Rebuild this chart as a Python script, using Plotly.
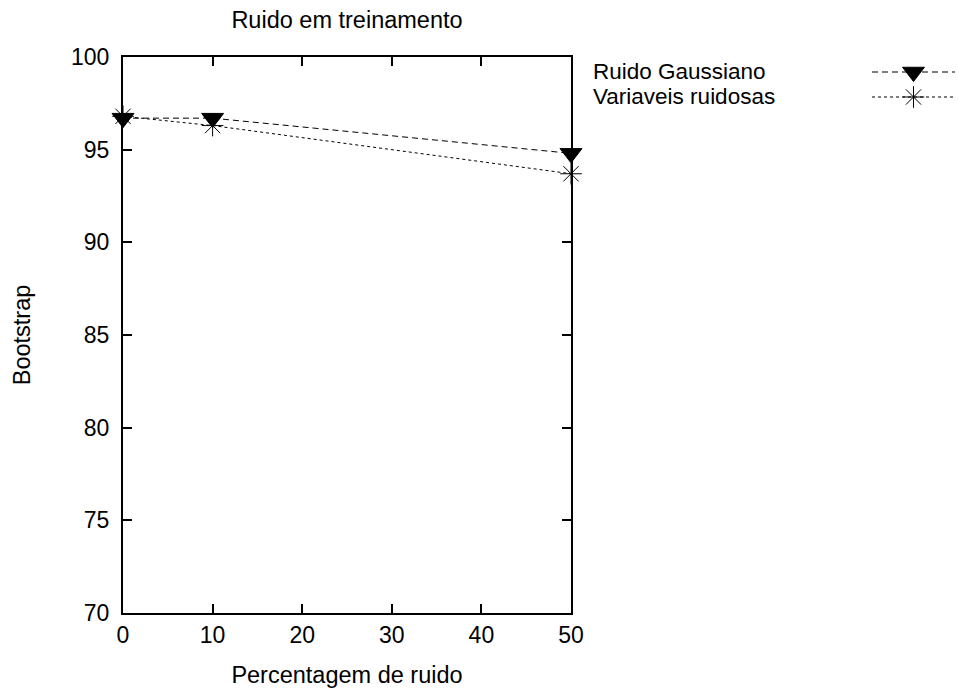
import plotly.graph_objects as go

W, H = 958, 691

# Data
noise_pct = [0, 10, 50]
gauss = [96.7, 96.7, 94.8]
variaveis = [96.8, 96.3, 93.7]
series_names = ["Ruido Gaussiano", "Variaveis ruidosas"]
x_ticks = [0, 10, 20, 30, 40, 50]
y_ticks = [70, 75, 80, 85, 90, 95, 100]

FONT = "Liberation Sans, Arial, Helvetica, sans-serif"
FS = 23.5
TFS = 23
LFS = 22.5

# plot area in pixels
L, R, T, B = 123, 571, 57, 613

def px_x(p):
    return p / W

def px_y(p):
    return (H - p) / H

fig = go.Figure()

styles = [
    dict(dash="6px,4px", symbol="triangle-down", size=19, color="black"),
    dict(dash="3px,3px", symbol="asterisk-open", size=18, color="black"),
]

for ys, st in zip([gauss, variaveis], styles):
    fig.add_trace(go.Scatter(
        x=noise_pct, y=ys, mode="lines+markers",
        line=dict(color="black", width=1, dash=st["dash"]),
        marker=dict(symbol=st["symbol"], size=st["size"], color="black",
                    line=dict(color="black", width=1)),
        cliponaxis=False, showlegend=False, xaxis="x", yaxis="y",
    ))

# legend samples drawn on a small auxiliary axis
leg_rows = [0, -1]
for row, st in zip(leg_rows, styles):
    fig.add_trace(go.Scatter(
        x=[0, 1], y=[row, row], mode="lines",
        line=dict(color="black", width=1, dash=st["dash"]),
        showlegend=False, xaxis="x2", yaxis="y2", hoverinfo="skip",
    ))
    fig.add_trace(go.Scatter(
        x=[0.5], y=[row], mode="markers",
        marker=dict(symbol=st["symbol"], size=st["size"], color="black",
                    line=dict(color="black", width=1)),
        cliponaxis=False, showlegend=False, xaxis="x2", yaxis="y2", hoverinfo="skip",
    ))

annotations = []
for row_px, name in zip([72, 97], series_names):
    annotations.append(dict(
        x=px_x(592), y=px_y(row_px), xref="paper", yref="paper",
        text=name, showarrow=False, xanchor="left", yanchor="middle",
        borderpad=0,
        font=dict(family=FONT, size=LFS, color="black"),
    ))

axis_common = dict(
    showline=True, linecolor="black", linewidth=2, mirror="ticks",
    ticks="inside", ticklen=9, tickwidth=1.5, tickcolor="black",
    showgrid=False, zeroline=False,
    tickfont=dict(family=FONT, size=TFS, color="black"),
    automargin=False,
)

fig.update_layout(
    width=W, height=H,
    margin=dict(l=0, r=0, t=0, b=0),
    paper_bgcolor="white", plot_bgcolor="white",
    font=dict(family=FONT, size=FS, color="black"),
    title=dict(text="Ruido em treinamento", x=px_x((L + R) / 2), xanchor="center",
               y=px_y(20), yanchor="middle", yref="container",
               font=dict(family=FONT, size=FS, color="black")),
    xaxis=dict(domain=[px_x(L), px_x(R)], range=[0, 50], tickvals=x_ticks,
               title=dict(text="Percentagem de ruido", standoff=20,
                          font=dict(family=FONT, size=FS)),
               anchor="y", **axis_common),
    yaxis=dict(domain=[px_y(B), px_y(T)], range=[70, 100], tickvals=y_ticks,
               ticklabelstandoff=7,
               title=dict(text="Bootstrap", standoff=34,
                          font=dict(family=FONT, size=FS)),
               anchor="x", **axis_common),
    xaxis2=dict(domain=[px_x(872), px_x(955)], range=[0, 1], visible=False,
                anchor="y2"),
    yaxis2=dict(domain=[px_y(109.5), px_y(59.5)], range=[-1.5, 0.5], visible=False,
                anchor="x2"),
    annotations=annotations,
)

fig.write_html("out.html", config={"displayModeBar": False},
               post_script="document.body.style.margin='0px';document.body.style.overflow='hidden';")
